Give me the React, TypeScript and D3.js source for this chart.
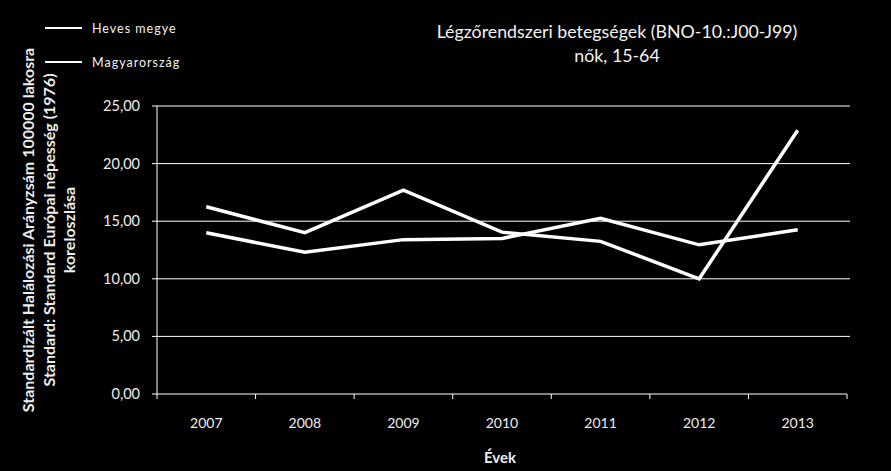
import React from "react";
import * as d3 from "d3";

const years = ["2007", "2008", "2009", "2010", "2011", "2012", "2013"];
const heves = [16.25, 14.0, 17.7, 14.05, 13.25, 10.0, 22.9];
const magyar = [14.0, 12.3, 13.4, 13.5, 15.25, 12.95, 14.25];
const yTicks = [0, 5, 10, 15, 20, 25];
const seriesNames = ["Heves megye", "Magyarország"];

const W = 891;
const H = 471;
const FONT = "Lato, 'Open Sans', sans-serif";

const App = () => {
  const margin = { top: 106, right: 44, bottom: 77, left: 157 };

  const x = d3.scaleBand<string>()
    .domain(years)
    .range([margin.left, W - margin.right]);

  const y = d3.scaleLinear()
    .domain([0, 25])
    .range([H - margin.bottom, margin.top]);

  const line = d3.line<number>()
    .x((d, i) => (x(years[i]) as number) + x.bandwidth() / 2)
    .y(d => y(d));

  const xBounds = [...years.map(d => x(d) as number), W - margin.right];

  return (
    <svg width={W} height={H} style={{ position: "absolute", left: 0, top: 0 }} fontFamily={FONT}>
      <rect width={W} height={H} fill="black" />

      {/* title */}
      <text x={617} y={38} fill="#f2f2f2" fontSize="17.8" textAnchor="middle">
        Légzőrendszeri betegségek (BNO-10.:J00-J99)
      </text>
      <text x={617} y={62} fill="#f2f2f2" fontSize="17.8" textAnchor="middle">
        nők, 15-64
      </text>

      {/* legend */}
      {seriesNames.map((name, i) => (
        <g key={name} transform={`translate(45, ${28 + i * 34})`}>
          <line x2={37} stroke="white" strokeWidth="2" />
          <text x={47} y={5} fill="#f2f2f2" fontSize="12.5" letterSpacing="1">{name}</text>
        </g>
      ))}

      {/* grid + y axis */}
      {yTicks.map(t => (
        <g key={t} transform={`translate(0, ${y(t)})`}>
          {t > 0 && <line x1={margin.left} x2={W - margin.right + 3} stroke="white" strokeWidth="1" />}
          <line x1={margin.left - 5} x2={margin.left} stroke="white" />
          <text x={140} y={5} fill="#eeeeee" fontSize="14.5" textAnchor="end">
            {d3.format(".2f")(t).replace(".", ",")}
          </text>
        </g>
      ))}
      <line x1={margin.left} x2={margin.left} y1={margin.top} y2={y(0)} stroke="white" />

      {/* x axis */}
      <line x1={margin.left} x2={W - margin.right} y1={y(0)} y2={y(0)} stroke="white" />
      {xBounds.map((b, i) => (
        <line key={i} x1={b} x2={b} y1={y(0)} y2={y(0) + 5} stroke="white" />
      ))}
      {years.map(d => (
        <text key={d} x={(x(d) as number) + x.bandwidth() / 2} y={428} fill="#eeeeee"
          fontSize="14" textAnchor="middle">{d}</text>
      ))}
      <text x={500} y={463} fill="#eeeeee" fontSize="15" fontWeight="bold" textAnchor="middle">Évek</text>

      {/* y title */}
      <g transform="translate(0, 230) rotate(-90)" fill="#eeeeee" fontSize="16" fontWeight="bold" textAnchor="middle">
        <text x={0} y={34}>Standardizált Halálozási Arányzsám  100000 lakosra</text>
        <text x={0} y={55}>Standard: Standard Európai népesség (1976)</text>
        <text x={0} y={75}>koreloszlása</text>
      </g>

      {/* series */}
      {[heves, magyar].map((s, i) => (
        <path key={i} d={line(s) as string} fill="none" stroke="white" strokeWidth="3.5" strokeLinejoin="miter" />
      ))}
    </svg>
  );
};

export default App;
